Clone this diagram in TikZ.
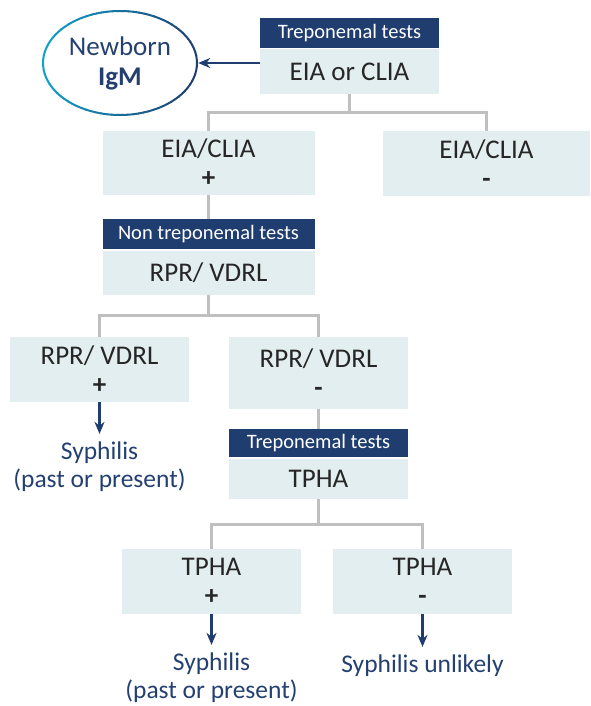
\documentclass[tikz,border=0pt]{standalone}
\usepackage{fontspec}
\setmainfont{Carlito}
\usetikzlibrary{shapes.geometric,arrows.meta,calc}

\begin{document}
\begin{tikzpicture}[x=1pt,y=-1pt,
  box/.style={fill=boxFill,text=txtDark,inner sep=0pt,align=center,font=\fontsize{27}{29}\selectfont},
  head/.style={fill=headFill,text=white,inner sep=0pt,minimum width=179pt,minimum height=30pt,font=\fontsize{20.5}{22}\selectfont},
  link/.style={draw=lineGray,line width=3pt},
  res/.style={-{Stealth[length=12pt,width=10pt]},draw=headFill,line width=2.5pt,shorten >=6pt},
  outcome/.style={text=resBlue,align=center,inner sep=2pt,font=\fontsize{25.5}{28}\selectfont}]
\definecolor{boxFill}{RGB}{227,238,240}
\definecolor{headFill}{RGB}{31,61,111}
\definecolor{lineGray}{RGB}{191,191,191}
\definecolor{txtDark}{RGB}{38,38,38}
\definecolor{resBlue}{RGB}{36,64,113}
\definecolor{ringTeal}{RGB}{17,162,202}
\definecolor{ringNavy}{RGB}{31,61,111}
\useasboundingbox (0,0) rectangle (590,706);

% first test
\node[head] (hdrA) at (349.5,33) {Treponemal tests};
\node[box,minimum width=179pt,minimum height=45pt] (eia) at (349.5,71.5) {EIA or CLIA};
\node[ellipse,minimum width=154pt,minimum height=104pt,inner sep=0pt,align=center,text=resBlue,font=\fontsize{27}{30}\selectfont] (igm) at (120,63) {Newborn\\\textbf{IgM}};
\foreach \a in {0,4,...,356}{
  \pgfmathsetmacro\mix{50+50*cos(\a)}
  \draw[line width=2pt,color=ringNavy!\mix!ringTeal] ($(igm.center)+({77*cos(\a)},{52*sin(\a)})$) arc[start angle=\a,delta angle=4.5,x radius=77,y radius=52];
}
\draw[res,shorten >=1pt] (igm.east -| eia.west) -- (igm.east);

% EIA/CLIA results
\node[box,minimum width=212pt,minimum height=64pt] (eiaP) at (208.5,163) {EIA/CLIA\\\textbf{+}};
\node[box,minimum width=207pt,minimum height=65pt] (eiaN) at (486.5,163.5) {EIA/CLIA\\\textbf{-}};
\draw[link] (eia.south) -- ++(0,18) -| (eiaP.north);
\draw[link] (eia.south) -- ++(0,18) -| (eiaN.north);

% non treponemal
\node[head,minimum width=212pt] (hdrB) at (208.5,234) {Non treponemal tests};
\node[box,minimum width=212pt,minimum height=44pt] (rpr) at (208.5,272.5) {RPR/ VDRL};
\draw[link] (eiaP.south) -- (hdrB.north);

\node[box,minimum width=179pt,minimum height=65pt] (rprP) at (99.5,369.5) {RPR/ VDRL\\\textbf{+}};
\node[box,minimum width=179pt,minimum height=72pt] (rprN) at (318.5,373) {RPR/ VDRL\\\textbf{-}};
\draw[link] (rpr.south) -- ++(0,21) -| (rprP.north);
\draw[link] (rpr.south) -- ++(0,21) -| (rprN.north);

\node[outcome] (syphA) at (99.5,467) {Syphilis\\(past or present)};
\draw[res] (rprP.south) -- (syphA.north);

% TPHA
\node[head,minimum height=28pt] (hdrC) at (318.5,443) {Treponemal tests};
\node[box,minimum width=179pt,minimum height=40pt] (tpha) at (318.5,479) {TPHA};
\draw[link] (rprN.south) -- (hdrC.north);

\node[box,minimum width=179pt,minimum height=65pt] (tphaP) at (211.5,581.5) {TPHA\\\textbf{+}};
\node[box,minimum width=179pt,minimum height=65pt] (tphaN) at (422.5,581.5) {TPHA\\\textbf{-}};
\draw[link] (tpha.south) -- ++(0,25) -| (tphaP.north);
\draw[link] (tpha.south) -- ++(0,25) -| (tphaN.north);

\node[outcome] (syphB) at (211.5,678) {Syphilis\\(past or present)};
\node[outcome] (unlik) at (422.5,666) {Syphilis unlikely};
\draw[res] (tphaP.south) -- (syphB.north);
\draw[res] (tphaN.south) -- (unlik.north);
\end{tikzpicture}
\end{document}
